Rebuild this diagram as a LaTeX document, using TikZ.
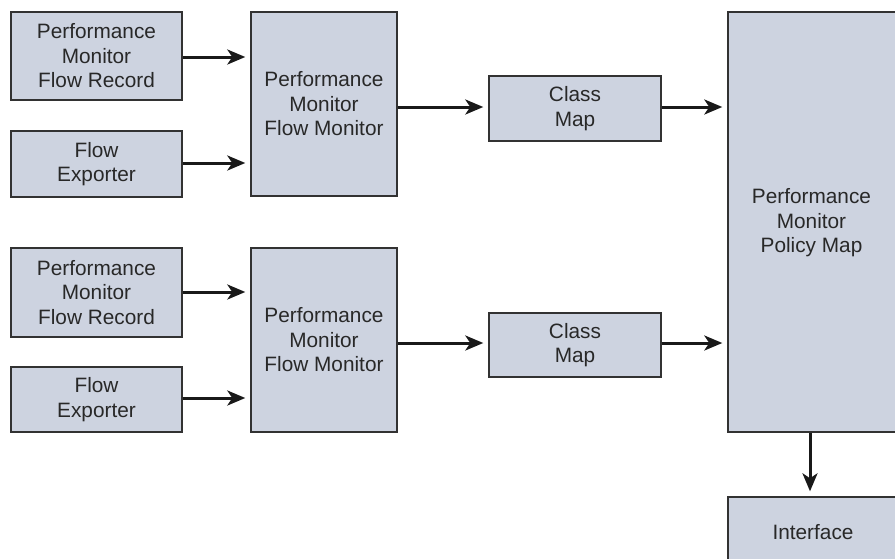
\documentclass[tikz,border=0pt]{standalone}
\usepackage{fontspec}
\setmainfont{Liberation Sans}
\usetikzlibrary{arrows.meta}
\definecolor{boxfill}{RGB}{205,211,224}
\definecolor{boxline}{RGB}{50,50,50}
\definecolor{txt}{RGB}{40,40,40}
\definecolor{arr}{RGB}{25,25,25}
\tikzset{
  blk/.style={draw=boxline, line width=1.4pt, fill=boxfill, text=txt, inner sep=0pt,
    align=center, font=\fontsize{20.8}{24.5}\selectfont},
  flow/.style={draw=arr, line width=3pt, shorten >=5pt,
    -{Stealth[length=18pt,width=15pt,inset=5pt]}}
}
\begin{document}
\begin{tikzpicture}[x=1pt,y=-1pt]
\useasboundingbox (0,0) rectangle (895,558);
\clip (0,0) rectangle (895,558);
% top group
\node[blk, minimum width=171pt, minimum height=88pt] (rec1) at (96.5,56) {Performance\\Monitor\\Flow Record};
\node[blk, minimum width=171pt, minimum height=66pt] (exp1) at (96.5,164) {Flow\\Exporter};
\node[blk, minimum width=146pt, minimum height=184pt] (mon1) at (324,104) {Performance\\Monitor\\Flow Monitor};
\node[blk, minimum width=172pt, minimum height=65pt] (cls1) at (575,108.5) {Class\\Map};
% bottom group
\node[blk, minimum width=171pt, minimum height=89pt] (rec2) at (96.5,292.5) {Performance\\Monitor\\Flow Record};
\node[blk, minimum width=171pt, minimum height=65pt] (exp2) at (96.5,399.5) {Flow\\Exporter};
\node[blk, minimum width=146pt, minimum height=184pt] (mon2) at (324,340) {Performance\\Monitor\\Flow Monitor};
\node[blk, minimum width=172pt, minimum height=64pt] (cls2) at (575,345) {Class\\Map};
% right column (right edge runs past the picture)
\node[blk, minimum width=172pt, minimum height=420pt] (pol) at (814,222) {};
\node[text=txt, align=center, font=\fontsize{20.8}{24.5}\selectfont] (poltext) at (811.5,223) {Performance\\Monitor\\Policy Map};
\node[blk, minimum width=172pt, minimum height=70pt] (int) at (814,532) {};
\node[text=txt, font=\fontsize{20.8}{24.5}\selectfont] (inttext) at (813,532) {Interface};
% connectors
\draw[flow] ([yshift=-1pt]rec1.east) -- ([yshift=-1pt]rec1.east -| mon1.west);
\draw[flow] ([yshift=1pt]exp1.east) -- ([yshift=1pt]exp1.east -| mon1.west);
\draw[flow] ([yshift=1.5pt]cls1.west -| mon1.east) -- ([yshift=1.5pt]cls1.west);
\draw[flow] ([yshift=1.5pt]cls1.east) -- ([yshift=1.5pt]cls1.east -| pol.west);
\draw[flow] ([yshift=0.5pt]rec2.east) -- ([yshift=0.5pt]rec2.east -| mon2.west);
\draw[flow] ([yshift=1.5pt]exp2.east) -- ([yshift=1.5pt]exp2.east -| mon2.west);
\draw[flow] ([yshift=2pt]cls2.west -| mon2.east) -- ([yshift=2pt]cls2.west);
\draw[flow] ([yshift=2pt]cls2.east) -- ([yshift=2pt]cls2.east -| pol.west);
\draw[flow] ([xshift=-4pt]pol.south) -- ([xshift=-4pt]int.north);
\end{tikzpicture}
\end{document}
